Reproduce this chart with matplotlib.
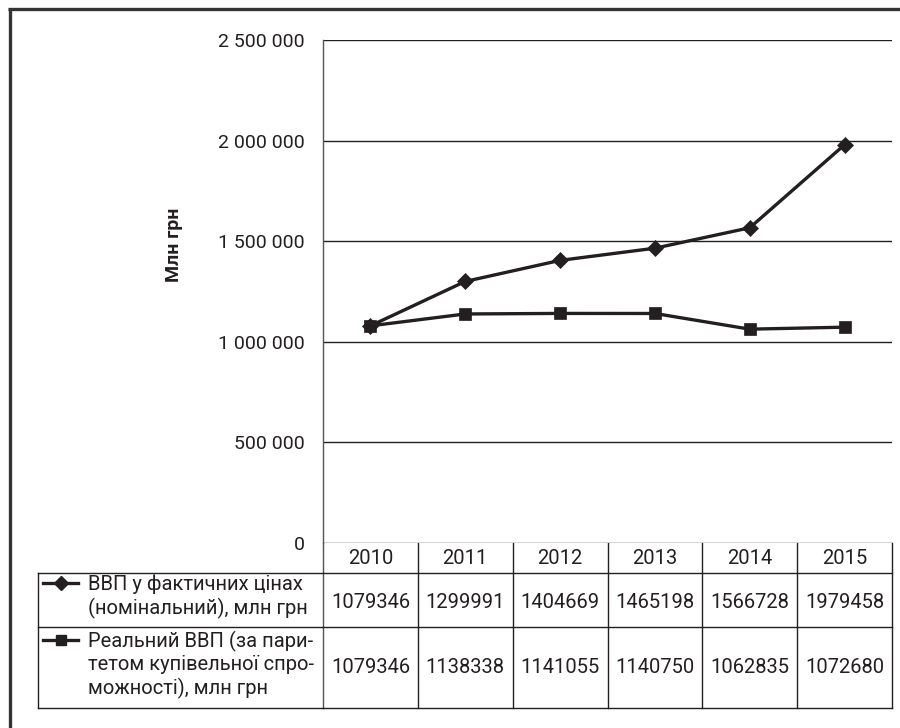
import matplotlib
matplotlib.use("Agg")
import matplotlib.pyplot as plt
import matplotlib.transforms as mtransforms

plt.rcParams['font.family'] = ['Roboto', 'DejaVu Sans']

# ---- data ----
years = ['2010', '2011', '2012', '2013', '2014', '2015']
nominal = [1079346, 1299991, 1404669, 1465198, 1566728, 1979458]
real = [1079346, 1138338, 1141055, 1140750, 1062835, 1072680]
label_nominal = "ВВП у фактичних цінах\n(номінальний), млн грн"
label_real = "Реальний ВВП (за пари-\nтетом купівельної спро-\nможності), млн грн"
y_ticks = [0, 500000, 1000000, 1500000, 2000000, 2500000]
y_label = "Млн грн"

INK = '#231f20'
W, H = 900, 728
fig = plt.figure(figsize=(W / 100, H / 100), dpi=100)

def fx(px):
    return px / W

def fy(py):
    return 1 - py / H

# main axes: x from 323 to 892 px, y from 40 to 543 px
ax = fig.add_axes([fx(323), fy(543), fx(892) - fx(323), fy(40) - fy(543)])
x = list(range(len(years)))
ax.plot(x, nominal, color=INK, lw=2.4, marker='D', ms=8.0, mec=INK, mfc=INK, mew=0.5, zorder=3)
ax.plot(x, real, color=INK, lw=2.4, marker='s', ms=8.4, mec=INK, mfc=INK, mew=0.5, zorder=3)
ax.set_xlim(-0.5, len(years) - 0.5)
ax.set_ylim(y_ticks[0], y_ticks[-1])
ax.set_yticks(y_ticks)
ax.set_yticklabels([f"{v:,}".replace(",", " ") for v in y_ticks], fontsize=14, color=INK)
ax.tick_params(axis='y', length=0, pad=13)
ax.set_xticks([])
for v in y_ticks:
    ax.axhline(v, color=INK, lw=1.0, zorder=1)
for s in ['top', 'right', 'bottom']:
    ax.spines[s].set_visible(False)
ax.spines['left'].set_color('#555555')
ax.spines['left'].set_linewidth(1.0)

fig.text(fx(174), fy(245), y_label, rotation=90, fontsize=14, fontweight='bold',
         ha='center', va='center', color=INK)

# overlay axes in pixel coordinates for table and border
ov = fig.add_axes([0, 0, 1, 1], zorder=-1)
ov.set_xlim(0, W)
ov.set_ylim(H, 0)
ov.axis('off')
tr = mtransforms.blended_transform_factory(ax.transData, ov.transData)

row_top, row1, row2, row_bot = 543, 573, 627, 708
# vertical lines of data columns
for i in range(len(years) + 1):
    ov.plot([i - 0.5, i - 0.5], [row_top, row_bot], color=INK if i else '#555555', lw=1.0,
            transform=tr, clip_on=False)
# horizontal lines
for yy in [row1, row2, row_bot]:
    ov.plot([38, 323], [yy, yy], color=INK, lw=1.0)
    ov.plot([-0.5, len(years) - 0.5], [yy, yy], color=INK, lw=1.0, transform=tr, clip_on=False)
ov.plot([38, 38], [row1, row_bot], color=INK, lw=1.0)

for i, yr in enumerate(years):
    ov.text(i, (row_top + row1) / 2 + 1, yr, transform=tr, ha='center', va='center',
            fontsize=14.5, color=INK)
    ov.text(i, (row1 + row2) / 2 + 2, str(nominal[i]), transform=tr, ha='center', va='center',
            fontsize=14.5, color=INK)
    ov.text(i, (row2 + row_bot) / 2, str(real[i]), transform=tr, ha='center', va='center',
            fontsize=14.5, color=INK)

# legend keys and labels
ov.plot([43, 78], [583, 583], color=INK, lw=2.4)
ov.plot([60.5], [583], marker='D', ms=7.2, color=INK)
ov.plot([43, 78], [640, 640], color=INK, lw=2.4)
ov.plot([60.5], [640], marker='s', ms=7.6, color=INK)
ov.text(88, 575, label_nominal, ha='left', va='top', fontsize=14.5, color=INK, linespacing=1.22)
ov.text(88, 631, label_real, ha='left', va='top', fontsize=14.5, color=INK, linespacing=1.22)

# outer frame (top and left)
ov.plot([8, W], [9, 9], color='#333333', lw=2.4, solid_capstyle='butt')
ov.plot([9.5, 9.5], [8, H], color='#333333', lw=2.4, solid_capstyle='butt')

fig.savefig("out.png", dpi=100)
